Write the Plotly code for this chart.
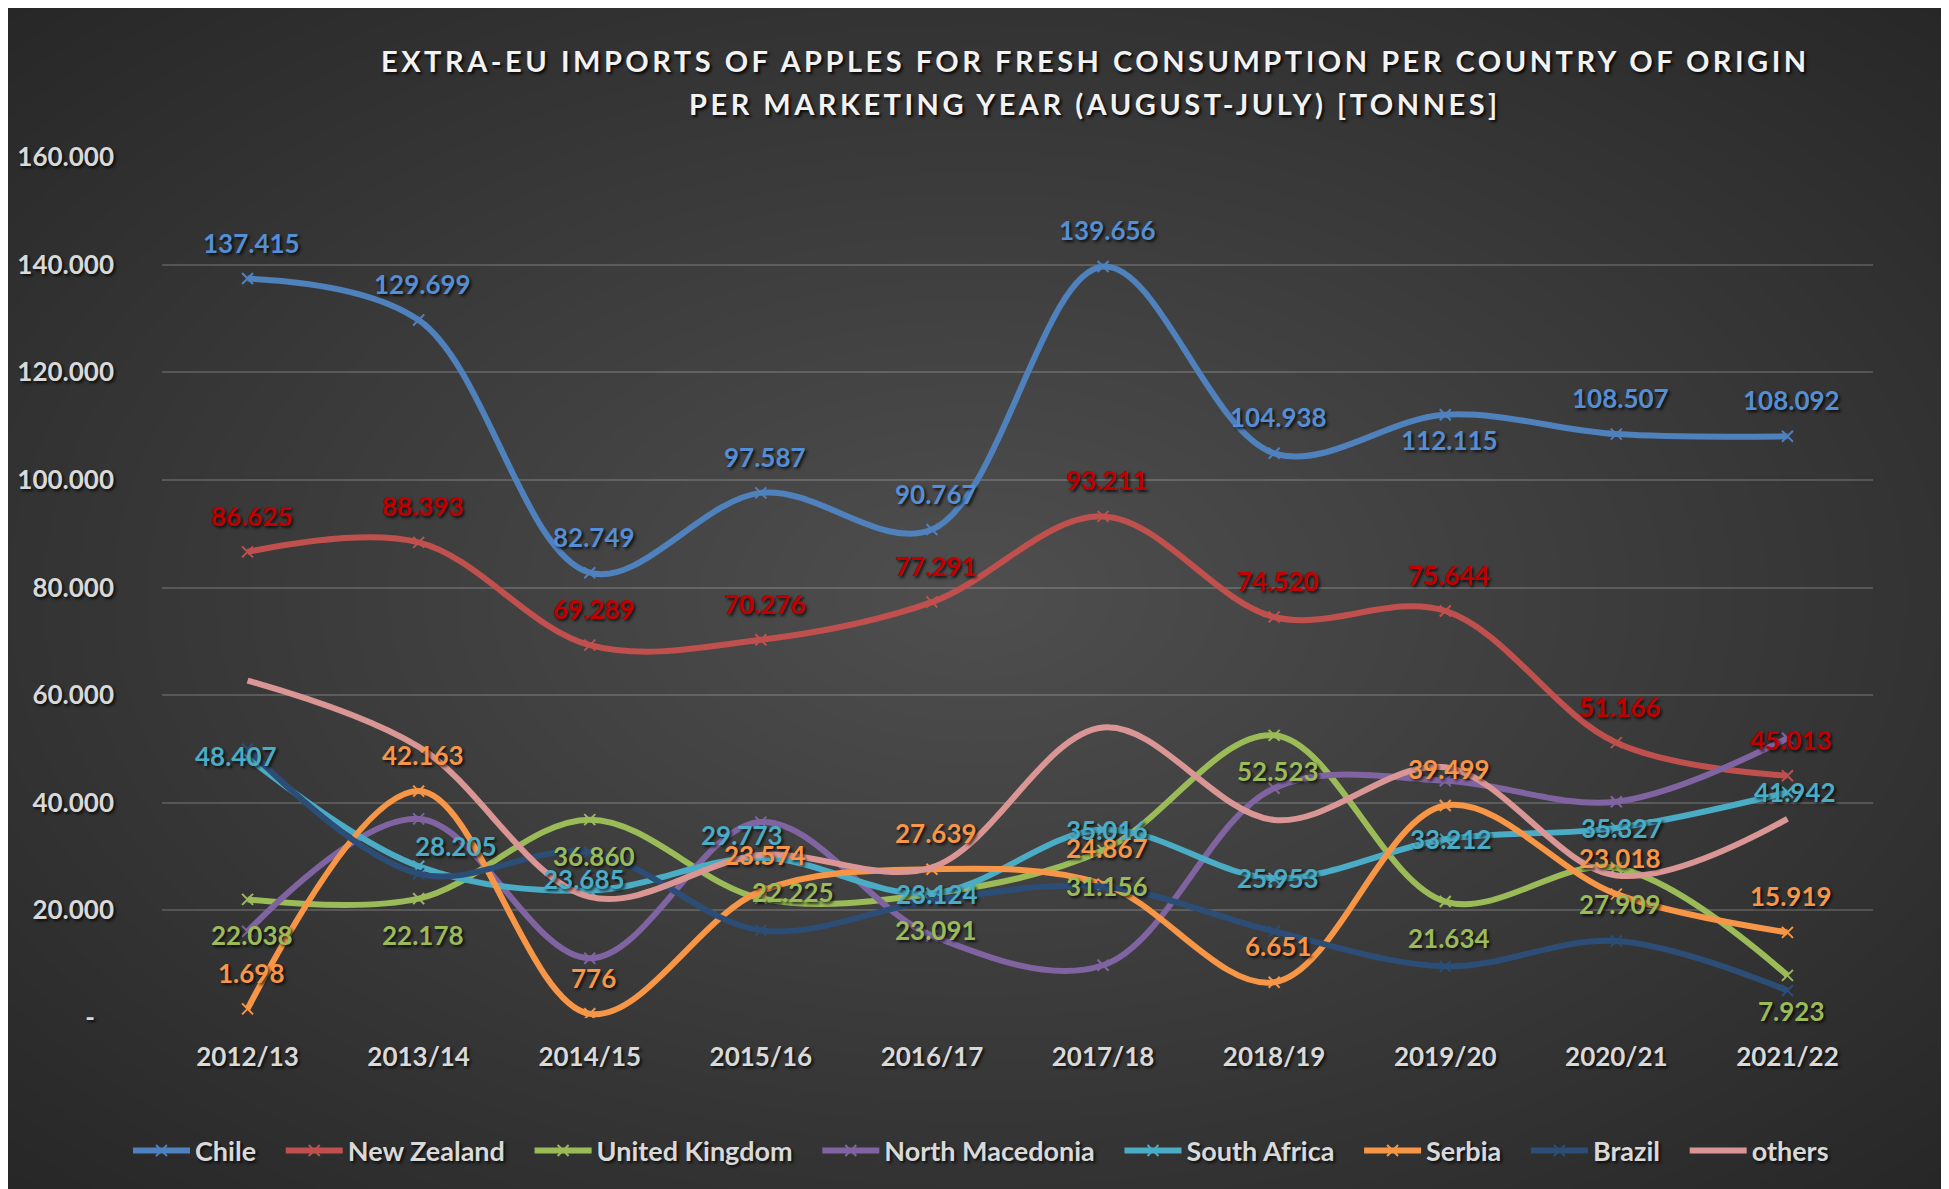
import plotly.graph_objects as go

# ---------------- data ----------------
years = ["2012/13", "2013/14", "2014/15", "2015/16", "2016/17",
         "2017/18", "2018/19", "2019/20", "2020/21", "2021/22"]

chile = [137415, 129699, 82749, 97587, 90767, 139656, 104938, 112115, 108507, 108092]
new_zealand = [86625, 88393, 69289, 70276, 77291, 93211, 74520, 75644, 51166, 45013]
united_kingdom = [22038, 22178, 36860, 22225, 23091, 31156, 52523, 21634, 27909, 7923]
north_macedonia = [16100, 37000, 11100, 36400, 15300, 9800, 42700, 44100, 40200, 52000]
south_africa = [48407, 28205, 23685, 29773, 23124, 35016, 25953, 33212, 35327, 41942]
serbia = [1698, 42163, 776, 23574, 27639, 24867, 6651, 39499, 23018, 15919]
brazil = [50000, 26800, 30800, 16300, 21800, 24400, 16100, 9600, 14300, 5100]
others = [62700, 50400, 22500, 30300, 28000, 54000, 36800, 46600, 26500, 37000]

y_tick_values = [0, 20000, 40000, 60000, 80000, 100000, 120000, 140000, 160000]
y_tick_labels = ["-\u00a0\u00a0\u00a0", "20.000", "40.000", "60.000", "80.000",
                 "100.000", "120.000", "140.000", "160.000"]

title_line1 = "EXTRA-EU IMPORTS OF APPLES FOR FRESH CONSUMPTION PER COUNTRY OF ORIGIN"
title_line2 = "PER MARKETING YEAR (AUGUST-JULY) [TONNES]"

# ---------------- geometry (page has an 8px body margin) ----------------
OFF = 8
W, H = 1949 - OFF, 1189 - OFF
ML, MR, MT, MB = 162 - OFF, 76, 157 - OFF, 171
PW = W - ML - MR
PH = H - MT - MB


def px_x(page_px):
    return (page_px - OFF - ML) / PW


def px_y(page_py):
    return (H - MB - (page_py - OFF)) / PH


FONT = "Lato, 'Open Sans', Roboto, sans-serif"
SHADOW = "2px 2px 3px rgba(0,0,0,0.75)"

series = [
    ("Chile", chile, "#4F81BD", True),
    ("New Zealand", new_zealand, "#C0504D", True),
    ("United Kingdom", united_kingdom, "#9BBB59", True),
    ("North Macedonia", north_macedonia, "#8064A2", True),
    ("South Africa", south_africa, "#4BACC6", True),
    ("Serbia", serbia, "#F79646", True),
    ("Brazil", brazil, "#2C4D75", True),
    ("others", others, "#D99694", False),
]

PAD = "\u00a0" * 3  # extra spacing after legend entries

fig = go.Figure()
for name, vals, color, has_marker in series:
    fig.add_trace(go.Scatter(
        x=years, y=vals, name=name + PAD,
        mode="lines+markers" if has_marker else "lines",
        line=dict(color=color, width=6, shape="spline", smoothing=1.0),
        marker=dict(symbol="x-thin", size=11, color=color,
                    line=dict(color=color, width=2)),
        hoverinfo="skip",
    ))

# ---------------- data labels ----------------
ABOVE, BELOW = 36, -36
label_sets = [
    (chile, "#558ED5", [(4, ABOVE)] * 7 + [(4, -25)] + [(4, ABOVE)] * 2),
    (new_zealand, "#C00000", [(4, ABOVE)] * 10),
    (united_kingdom, "#9BBB59", [(4, BELOW)] * 3 + [(32, 6)] + [(4, BELOW)] * 6),
    (south_africa, "#4BACC6", [(-12, 2), (37, 20), (-6, 12), (-19, 23), (5, 0),
                               (4, 0), (4, 0), (6, 0), (6, 0), (8, 0)]),
    (serbia, "#F79646", [(4, ABOVE)] * 10),
]


def fmt(v):
    return f"{v:,}".replace(",", ".")


annotations = []
for vals, color, offsets in label_sets:
    for xcat, v, (dx, dy) in zip(years, vals, offsets):
        annotations.append(dict(
            x=xcat, y=v, xref="x", yref="y", text=fmt(v), showarrow=False,
            xanchor="center", yanchor="middle", xshift=dx, yshift=dy,
            font=dict(family=FONT, size=26, color=color, weight="bold",
                      shadow=SHADOW),
        ))

# title (two lines, letter-spaced)
for txt, py in ((title_line1, 60), (title_line2, 103)):
    annotations.append(dict(
        x=px_x(1095), y=px_y(py), xref="paper", yref="paper",
        text=f'<span style="letter-spacing:3.5px">{txt}</span>', showarrow=False,
        xanchor="center", yanchor="middle",
        font=dict(family=FONT, size=29, color="#F2F2F2", weight="bold",
                  shadow="2px 2px 3px rgba(0,0,0,0.9)"),
    ))

# ---------------- background (radial gradient) ----------------
shapes = [dict(type="rect", xref="paper", yref="paper", layer="below",
               x0=px_x(OFF), x1=px_x(1942), y0=px_y(1189), y1=px_y(OFF),
               fillcolor="#262626", line=dict(width=0))]
cx, cy = 975, 595
rx_max, ry_max = 1380, 845
N = 40
for k in range(N, 0, -1):
    f = k / N
    shapes.append(dict(type="circle", xref="paper", yref="paper", layer="below",
                       x0=px_x(cx - rx_max * f), x1=px_x(cx + rx_max * f),
                       y0=px_y(cy + ry_max * f), y1=px_y(cy - ry_max * f),
                       fillcolor="rgba(255,255,255,0.0064)", line=dict(width=0)))

fig.update_layout(
    width=W, height=H,
    margin=dict(l=ML, r=MR, t=MT, b=MB, pad=0, autoexpand=False),
    paper_bgcolor="white",
    plot_bgcolor="rgba(0,0,0,0)",
    showlegend=True,
    legend=dict(orientation="h", xref="paper", yref="paper",
                x=px_x(128), y=px_y(1151),
                xanchor="left", yanchor="middle",
                font=dict(family=FONT, size=27, color="#D9D9D9", weight="bold",
                          shadow=SHADOW),
                bgcolor="rgba(0,0,0,0)", itemwidth=57, traceorder="normal"),
    shapes=shapes,
    annotations=annotations,
    xaxis=dict(type="category", range=[-0.5, 9.5], showgrid=False,
               zeroline=False, showline=False, ticks="",
               tickfont=dict(family=FONT, size=26, color="#D9D9D9", weight="bold",
                             shadow=SHADOW),
               ticklabelstandoff=21),
    yaxis=dict(range=[0, 160000], tickmode="array", tickvals=y_tick_values,
               ticktext=y_tick_labels, showgrid=True,
               gridcolor="rgba(255,255,255,0.17)", gridwidth=1.5,
               zeroline=False, showline=False, ticks="",
               tickfont=dict(family=FONT, size=26, color="#D9D9D9", weight="bold",
                             shadow=SHADOW),
               ticklabelstandoff=47),
)

fig.write_html("out.html")
